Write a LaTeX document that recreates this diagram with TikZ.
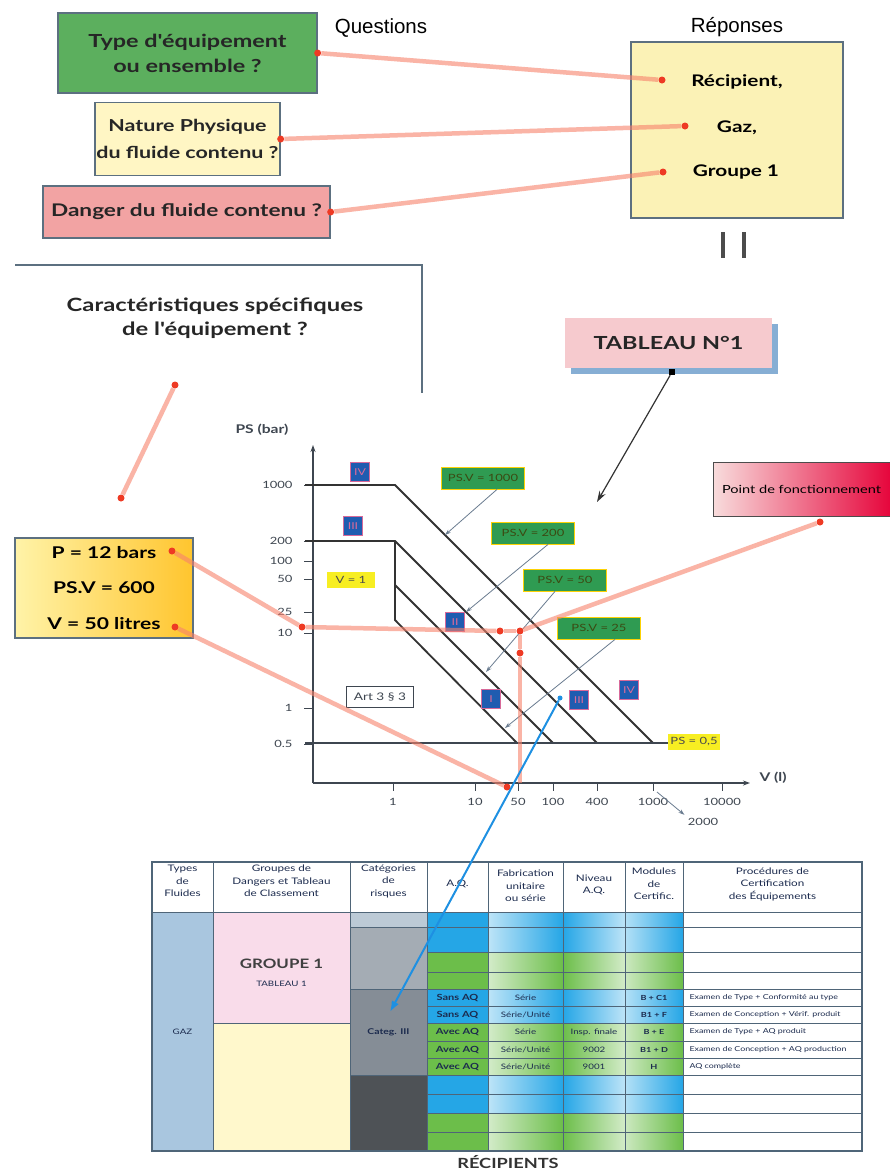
\documentclass[tikz,border=0pt]{standalone}
\usepackage{fontspec}
\setmainfont{Lato}
\setsansfont{Liberation Sans}
\newfontfamily\gill[FakeStretch=1.3]{Lato}
\usetikzlibrary{arrows.meta,positioning}

\definecolor{boxgreen}{HTML}{5CAF5E}
\definecolor{boxcream}{HTML}{FFF6C4}
\definecolor{boxpink}{HTML}{F2A3A3}
\definecolor{answeryellow}{HTML}{FBF2B6}
\definecolor{frameblue}{HTML}{5C7080}
\definecolor{linered}{HTML}{F7826C}
\definecolor{dotred}{HTML}{EE3A24}
\definecolor{catblue}{HTML}{1F5CB0}
\definecolor{catpink}{HTML}{D86A9A}
\definecolor{psgreen}{HTML}{2F9B52}
\definecolor{pstext}{HTML}{3B4A12}
\definecolor{labyellow}{HTML}{F7EE22}
\definecolor{axisgrey}{HTML}{3E4650}
\definecolor{pointgrey}{HTML}{6A7C90}
\definecolor{tabpink}{HTML}{F6CACE}
\definecolor{tabshadow}{HTML}{86AED4}
\definecolor{ptred}{HTML}{E6063C}
\definecolor{ptpink}{HTML}{F8DCDC}
\definecolor{pboxlight}{HTML}{FFF3A8}
\definecolor{pboxdark}{HTML}{FFC52E}
\definecolor{arrowblue}{HTML}{1E90E2}
\definecolor{aqblue}{HTML}{25A6E6}
\definecolor{aqgreen}{HTML}{6CBE4A}
\definecolor{fluidblue}{HTML}{A9C6DF}
\definecolor{grpink}{HTML}{F9DCEA}
\definecolor{gryellow}{HTML}{FFF8CC}
\definecolor{catA}{HTML}{BCCAD6}
\definecolor{catB}{HTML}{A4ACB4}
\definecolor{catC}{HTML}{858D96}
\definecolor{catD}{HTML}{4E5256}
\definecolor{tabline}{HTML}{4F6578}
\definecolor{tabtext}{HTML}{1C2B4E}

\tikzset{
  qbox/.style={draw=frameblue, line width=1.3pt, align=center, inner sep=0pt, text=black!85},
  redline/.style={draw=linered, line width=4.5pt, opacity=0.6},
  reddot/.style={circle, fill=dotred, inner sep=0pt, minimum size=7pt},
  catbox/.style={fill=catblue, draw=catpink, line width=0.8pt, minimum size=19pt, inner sep=0pt,
    text=catpink, font=\gill\fontsize{9.5}{9.5}\selectfont},
  psvbox/.style={fill=psgreen, draw=yellow!70!orange, line width=0.8pt, minimum width=83pt,
    minimum height=22pt, inner sep=0pt, text=pstext, font=\gill\fontsize{10}{10}\selectfont},
  ylab/.style={fill=labyellow, inner sep=0pt, minimum height=16pt, text=black!70,
    font=\gill\fontsize{10}{10}\selectfont},
  pointer/.style={draw=pointgrey, line width=0.8pt, -{Stealth[length=6pt,width=4pt]}},
  tick/.style={font=\gill\fontsize{10}{10}\selectfont, text=axisgrey},
  diag/.style={draw=black!80, line width=1.8pt},
  hdr/.style={align=center, font=\gill\fontsize{9}{12.5}\selectfont, text=tabtext},
  cell/.style={font=\gill\fontsize{7.5}{7.5}\selectfont, text=tabtext},
}

\begin{document}
\begin{tikzpicture}[x=1pt, y=-1pt]
  \useasboundingbox (0,0) rectangle (890,1171);
  \fill[white] (0,0) rectangle (890,1171);

  % Questions et reponses
  \node[font=\sffamily\fontsize{20.5}{20.5}\selectfont] (questions) at (381,28) {Questions};
  \node[font=\sffamily\fontsize{20.5}{20.5}\selectfont] (reponses) at (737,27) {Réponses};
  \node[qbox, fill=boxgreen, minimum width=259pt, minimum height=80pt,
    font=\gill\bfseries\fontsize{18}{25}\selectfont] (typeq) at (187.5,53) {Type d'équipement\\ou ensemble ?};
  \node[qbox, fill=boxcream, minimum width=185pt, minimum height=73pt,
    font=\gill\bfseries\fontsize{16.5}{27}\selectfont] (natureq) at (187.5,139) {Nature Physique\\du fluide contenu ?};
  \node[qbox, fill=boxpink, minimum width=287pt, minimum height=52pt,
    font=\gill\bfseries\fontsize{17.4}{17.4}\selectfont] (dangerq) at (186.5,212) {Danger du fluide contenu ?};
  \node[qbox, fill=answeryellow, minimum width=212pt, minimum height=176pt] (answer) at (737,130) {};
  \node[font=\gill\bfseries\fontsize{16}{16}\selectfont] (recip) at (737,82) {Récipient,};
  \node[font=\gill\bfseries\fontsize{16}{16}\selectfont] (gaz) at (737,128) {Gaz,};
  \node[font=\gill\bfseries\fontsize{16}{16}\selectfont] (groupe) at (736,172) {Groupe 1};
  % liens questions -> reponses
  \node[reddot] (q1) at (typeq.east) {};
  \node[reddot] (q2) at (natureq.east) {};
  \node[reddot] (q3) at (dangerq.east) {};
  \node[reddot] (r1) at (662,80) {};
  \node[reddot] (r2) at (685,126) {};
  \node[reddot] (r3) at (663,172) {};
  \draw[redline] (q1) -- (r1);
  \draw[redline] (q2) -- (r2);
  \draw[redline] (q3) -- (r3);
  % signe egal vertical
  \coordinate (eqa) at (723,232);
  \coordinate (eqb) at (744,232);
  \draw[black!70, line width=3.5pt] (eqa) -- ++(0,26);
  \draw[black!70, line width=3.5pt] (eqb) -- ++(0,26);

  % Caracteristiques
  \draw[frameblue, line width=1.5pt] (15,265) -- (422,265) -- (422,393);
  \node[align=center, font=\gill\bfseries\fontsize{18.3}{24}\selectfont, text=black!85] (caract) at (215,318)
    {Caractéristiques spécifiques\\de l'équipement ?};
  \node[reddot] (c1) at (175,385) {};
  \node[reddot] (c2) at (121,498) {};
  \draw[redline] (c1) -- (c2);
  \node[draw=frameblue, line width=1.2pt, left color=pboxlight, right color=pboxdark,
    minimum width=178pt, minimum height=100pt, inner sep=0pt, align=center,
    font=\gill\bfseries\fontsize{16.2}{35.5}\selectfont] (pbox) at (104,588)
    {P = 12 bars\\PS.V = 600\\V = 50 litres};
  \node[reddot] (pdot) at (172,551) {};
  \node[reddot] (vdot) at (175,627) {};

  % Tableau des categories
  \fill[fluidblue] (152,912) rectangle (213,1151);
  \fill[grpink] (213,912) rectangle (350,1023);
  \fill[gryellow] (213,1023) rectangle (350,1151);
  \fill[catA] (350,912) rectangle (427,927);
  \fill[catB] (350,927) rectangle (427,989);
  \fill[catC] (350,989) rectangle (427,1075);
  \fill[catD] (350,1075) rectangle (427,1151);
  \foreach \ya/\yb/\rowcol in {912/952/aqblue, 952/989/aqgreen, 989/1023/aqblue,
      1023/1075/aqgreen, 1075/1113/aqblue, 1113/1151/aqgreen} {
    \fill[\rowcol] (427,\ya) rectangle (488,\yb);
    \shade[left color=\rowcol!30, right color=\rowcol] (488,\ya) rectangle (563,\yb);
    \shade[left color=\rowcol, right color=\rowcol!30] (563,\ya) rectangle (625,\yb);
    \shade[left color=\rowcol!35, right color=\rowcol] (625,\ya) rectangle (683,\yb);
  }
  \foreach \yy in {927,952,972,989,1006,1023,1041,1058,1075,1094,1113,1132}
    \draw[tabline, line width=0.8pt] (427,\yy) -- (862,\yy);
  \foreach \yy in {927,989,1075}
    \draw[tabline, line width=0.8pt] (350,\yy) -- (427,\yy);
  \draw[tabline, line width=0.8pt] (213,1023) -- (350,1023);
  \draw[tabline, line width=1pt] (152,912) -- (862,912);
  \foreach \xx in {213,350,427,488,563,625,683}
    \draw[tabline, line width=0.8pt] (\xx,862) -- (\xx,1151);
  \draw[tabline, line width=1.3pt] (152,862) rectangle (862,1151);
  % en-tetes
  \node[hdr] (h1) at (182.5,881) {Types\\de\\Fluides};
  \node[hdr] (h2) at (281.5,881) {Groupes de\\Dangers et Tableau\\de Classement};
  \node[hdr] (h3) at (388.5,881) {Catégories\\de\\risques};
  \node[hdr] (h4) at (457.5,884) {A.Q.};
  \node[hdr] (h5) at (525.5,886) {Fabrication\\unitaire\\ou série};
  \node[hdr] (h6) at (594,885) {Niveau\\A.Q.};
  \node[hdr] (h7) at (654,884) {Modules\\de\\Certific.};
  \node[hdr] (h8) at (772.5,884) {Procédures de\\Certification\\des Équipements};
  \node[cell] (gazcell) at (182.5,1032) {GAZ};
  \node[font=\gill\bfseries\fontsize{13}{13}\selectfont, text=black!75] (grp1) at (281.5,964) {GROUPE 1};
  \node[cell] (tab1) at (281.5,984) {TABLEAU 1};
  \node[cell, font=\gill\bfseries\fontsize{8}{8}\selectfont] (categ) at (388.5,1032) {Categ. III};
  \foreach \yy/\aq/\fab/\niv/\modl/\proc [count=\ri] in {
      997.5/Sans AQ/Série//B + C1/Examen de Type + Conformité au type,
      1014.5/Sans AQ/{Série/Unité}//B1 + F/Examen de Conception + Vérif. produit,
      1032/Avec AQ/Série/Insp. finale/B + E/Examen de Type + AQ produit,
      1049.5/Avec AQ/{Série/Unité}/9002/B1 + D/Examen de Conception + AQ production,
      1066.5/Avec AQ/{Série/Unité}/9001/H/AQ complète} {
    \node[cell, font=\gill\bfseries\fontsize{8.5}{8.5}\selectfont] (aq\ri) at (457.5,\yy) {\aq};
    \node[cell] (fab\ri) at (525.5,\yy) {\fab};
    \node[cell] (niv\ri) at (594,\yy) {\niv};
    \node[cell, font=\gill\bfseries\fontsize{7}{7}\selectfont] (mod\ri) at (654,\yy) {\modl};
    \node[cell, anchor=west, font=\gill\fontsize{6.8}{6.8}\selectfont] (proc\ri) at (686,\yy) {\proc};
  }
  \node[font=\gill\bfseries\fontsize{14}{14}\selectfont, text=black!80] (recipients) at (508,1162) {RÉCIPIENTS};

  % Diagramme PS / V
  \coordinate (orig) at (313,783);
  \coordinate (ytop) at (313,445);
  \coordinate (xend) at (750,783);
  \draw[axisgrey, line width=1.2pt, -{Stealth[length=7pt,width=5pt]}] (orig) -- (ytop);
  \draw[axisgrey, line width=1.2pt, -{Stealth[length=7pt,width=5pt]}] (orig) -- (xend);
  \node[font=\gill\bfseries\fontsize{12}{12}\selectfont, text=axisgrey] (psaxis) at (262,430) {PS (bar)};
  \node[font=\gill\bfseries\fontsize{12}{12}\selectfont, text=axisgrey, anchor=west] (vaxis) at (756,778) {V (l)};
  \foreach \y/\lab in {485/1000, 541/200, 561/100, 579/50, 612/25, 633/10, 708/1, 744/0.5} {
    \draw[axisgrey, line width=0.8pt] (304,\y) -- (313,\y);
    \node[tick, anchor=east] (ytick\lab) at (296,\y) {\lab};
  }
  \foreach \x/\lab in {393/1, 475/10, 518/50, 553/100, 597/400, 653/1000, 722/10000} {
    \draw[axisgrey, line width=0.8pt] (\x,783) -- (\x,791);
    \node[tick] (xtick\lab) at (\x,802) {\lab};
  }
  \node[tick] (t2000) at (703,822) {2000};
  \coordinate (at2000) at (657,792);
  \draw[pointer] (at2000) -- (t2000.north west);
  % limites des categories
  \draw[diag] (305,485) -- (395,485) -- (653,743);
  \draw[diag] (305,541) -- (395,541) -- (597,743);
  \draw[diag] (395,541) -- (395,620) -- (517,743);
  \draw[diag] (395,585) -- (553,743);
  \draw[axisgrey, line width=1.6pt] (305,743) -- (706,743);
  % etiquettes
  \node[catbox] (catIVa) at (360,472) {IV};
  \node[catbox] (catIIIa) at (353,526) {III};
  \node[catbox] (catII) at (455,622) {II};
  \node[catbox] (catI) at (491,699) {I};
  \node[catbox] (catIIIb) at (579,700) {III};
  \node[catbox] (catIVb) at (629,690) {IV};
  \node[psvbox] (psv1000) at (483,478) {PS.V = 1000};
  \node[psvbox] (psv200) at (533,533) {PS.V = 200};
  \node[psvbox] (psv50) at (565,580) {PS.V = 50};
  \node[psvbox] (psv25) at (599,628) {PS.V = 25};
  \coordinate (on1000) at (445,535);
  \coordinate (on200) at (466,612);
  \coordinate (on50) at (486,672);
  \coordinate (on25) at (505,728);
  \draw[pointer] ([xshift=14pt]psv1000.south) -- (on1000);
  \draw[pointer] ([xshift=15pt]psv200.south) -- (on200);
  \draw[pointer] ([xshift=-10pt]psv50.south) -- (on50);
  \draw[pointer] ([xshift=16pt]psv25.south) -- (on25);
  \node[ylab, minimum width=48pt] (vone) at (351,580) {V = 1};
  \node[ylab, minimum width=52pt] (pshalf) at (694,742) {PS = 0,5};
  \node[draw=axisgrey, fill=white, line width=1.2pt, inner sep=0pt, minimum width=67pt,
    minimum height=21pt, font=\gill\fontsize{10.5}{10.5}\selectfont, text=axisgrey] (art) at (380,697) {Art 3 § 3};

  % Tableau n 1
  \fill[tabshadow] (571,324) rectangle (778,374);
  \node[fill=tabpink, minimum width=207pt, minimum height=50pt, inner sep=0pt,
    font=\gill\bfseries\fontsize{18}{18}\selectfont, text=black!85] (tableau) at (668.5,343) {TABLEAU N°1};
  \node[fill=black, minimum size=6pt, inner sep=0pt] (tabsq) at (672,372) {};
  \coordinate (tabtip) at (597,502);
  \draw[black!80, line width=1.2pt, -{Stealth[length=11pt,width=7pt]}] (tabsq) -- (tabtip);

  % Point de fonctionnement
  \node[draw=black!70, line width=0.6pt, left color=ptpink, right color=ptred,
    minimum width=177pt, minimum height=54pt, inner sep=0pt,
    font=\gill\fontsize{11.2}{11.2}\selectfont] (point) at (801.5,489) {Point de fonctionnement};
  \node[reddot] (ptdot) at (820,522) {};

  % lecture du point
  \node[reddot] (p12) at (302,627) {};
  \node[reddot] (h1dot) at (500,631) {};
  \node[reddot] (h2dot) at (520,631) {};
  \node[reddot] (vdot2) at (520,653) {};
  \node[reddot] (v50) at (507,787) {};
  \coordinate (vfoot) at (520,783);
  \draw[redline] (pdot) -- (p12);
  \draw[redline] (p12) -- (h1dot);
  \draw[redline] (h1dot) -- (h2dot);
  \draw[redline] (h2dot) -- (vdot2);
  \draw[redline] (vdot2) -- (vfoot);
  \draw[redline] (vdot) -- (v50);
  \draw[redline] (ptdot) -- (h2dot);

  % renvoi vers le tableau
  \node[circle, fill=arrowblue, inner sep=0pt, minimum size=5pt] (bdot) at (560,698) {};
  \coordinate (btip) at (390,1012);
  \draw[arrowblue, line width=2pt, -{Latex[length=11pt,width=8pt]}] (bdot) -- (btip);
\end{tikzpicture}
\end{document}
